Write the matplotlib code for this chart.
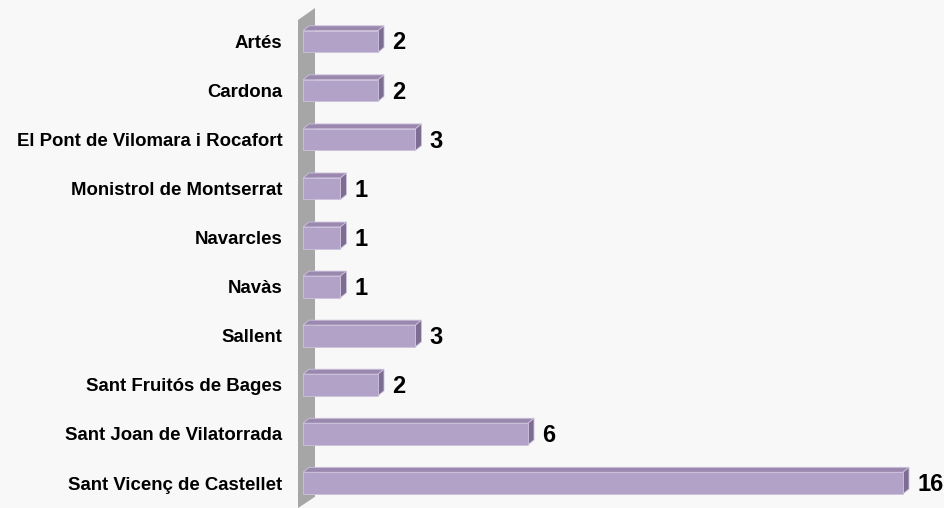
import matplotlib
matplotlib.use("Agg")
import matplotlib.pyplot as plt
from matplotlib.patches import Polygon

plt.rcParams['font.family'] = ['Liberation Sans', 'DejaVu Sans']

municipis = ['Artés', 'Cardona', 'El Pont de Vilomara i Rocafort',
             'Monistrol de Montserrat', 'Navarcles', 'Navàs', 'Sallent',
             'Sant Fruitós de Bages', 'Sant Joan de Vilatorrada',
             'Sant Vicenç de Castellet']
valors = [2, 2, 3, 1, 1, 1, 3, 2, 6, 16]

front = '#b3a2c7'
top = '#9a88ae'
side = '#7d6d92'
edge = '#cdc2dc'
bg = '#f8f8f8'

# depth of the fake 3d effect (x in value units, y in rows)
dx, dy = 0.16, 0.10
h = 0.44

fig = plt.figure(figsize=(9.45, 5.08), dpi=100, facecolor=bg)
# x=0 at pixel 303, 37.5 px per unit
x0 = (290 - 303) / 37.5
x1 = (945 - 303) / 37.5
ax = fig.add_axes([290 / 945, 0, 1 - 290 / 945, 1])
ax.set_facecolor(bg)
ax.set_xlim(x0, x1)
ax.set_ylim((508 - 41.5) / 49.06, -41.5 / 49.06)

# grey wall on the left
ax.add_patch(Polygon([(-0.133, -0.438), (0.32, -0.683), (0.32, 9.28), (-0.133, 9.51)],
                     closed=True, facecolor='#a6a6a6', edgecolor='none', zorder=1))

for i, v in enumerate(valors):
    yt, yb = i - h / 2, i + h / 2
    # top face
    ax.add_patch(Polygon([(0, yt), (dx, yt - dy), (v + dx, yt - dy), (v, yt)],
                         closed=True, facecolor=top, edgecolor=edge, lw=0.6, zorder=2))
    # side face
    ax.add_patch(Polygon([(v, yt), (v + dx, yt - dy), (v + dx, yb - dy), (v, yb)],
                         closed=True, facecolor=side, edgecolor=edge, lw=0.6, zorder=2))
    # front face
    ax.add_patch(Polygon([(0, yt), (v, yt), (v, yb), (0, yb)],
                         closed=True, facecolor=front, edgecolor=edge, lw=0.6, zorder=3))
    ax.text(v + dx + 0.22, i + 0.03, str(v), ha='left', va='center',
            fontsize=17, fontweight='bold', color='black')

ax.set_yticks(range(len(municipis)))
ax.set_yticklabels(municipis, fontsize=13.4, fontweight='bold')
ax.tick_params(axis='y', length=0, pad=5.5)
ax.set_xticks([])
for s in ax.spines.values():
    s.set_visible(False)

fig.savefig('out.png', dpi=100, facecolor=bg)
